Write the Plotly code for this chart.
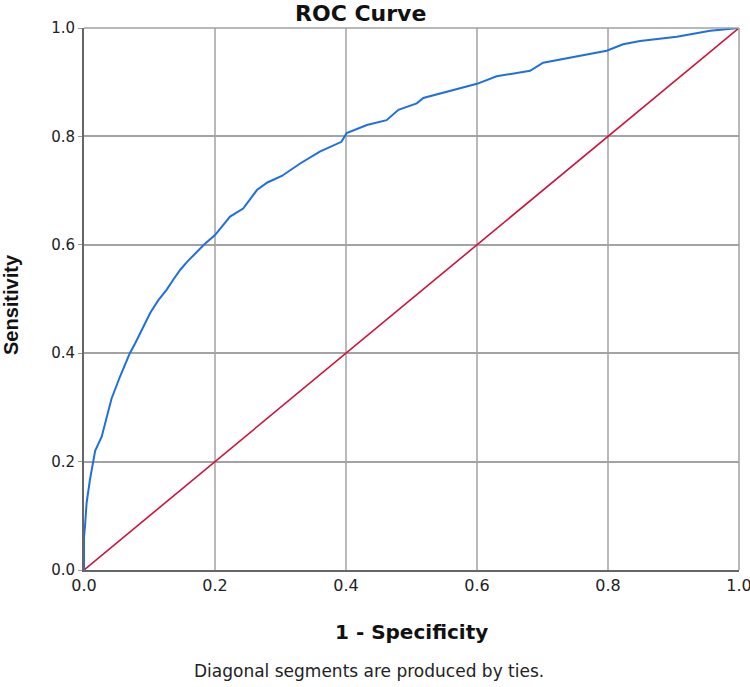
import plotly.graph_objects as go

# ROC curve
fpr = [0, 0, 0.0015, 0.004, 0.009, 0.014, 0.017, 0.027, 0.035, 0.042, 0.055, 0.070, 0.078,
       0.090, 0.101, 0.113, 0.126, 0.137, 0.147, 0.157, 0.167, 0.183, 0.200, 0.212, 0.223,
       0.243, 0.253, 0.264, 0.280, 0.302, 0.330, 0.360, 0.393, 0.401, 0.432, 0.462, 0.480,
       0.508, 0.518, 0.559, 0.600, 0.630, 0.681, 0.701, 0.752, 0.798, 0.823, 0.849, 0.905,
       0.956, 1.0]
tpr = [0, 0.06, 0.08, 0.124, 0.166, 0.203, 0.220, 0.246, 0.285, 0.316, 0.357, 0.400, 0.418,
       0.447, 0.474, 0.497, 0.517, 0.537, 0.554, 0.568, 0.581, 0.600, 0.618, 0.635, 0.652,
       0.667, 0.683, 0.701, 0.715, 0.727, 0.750, 0.772, 0.790, 0.806, 0.821, 0.830, 0.849,
       0.861, 0.871, 0.884, 0.897, 0.911, 0.921, 0.936, 0.948, 0.958, 0.970, 0.976, 0.984,
       0.995, 1.0]
ref_x = [0, 1]
ref_y = [0, 1]
tick_vals = [0.0, 0.2, 0.4, 0.6, 0.8, 1.0]
tick_text = ["0.0", "0.2", "0.4", "0.6", "0.8", "1.0"]

title_text = "ROC Curve"
x_title = "1 - Specificity"
y_title = "Sensitivity"
footnote = "Diagonal segments are produced by ties."

fig = go.Figure()
fig.add_trace(go.Scatter(x=ref_x, y=ref_y, mode="lines",
                         line=dict(color="#d0123c", width=1.6), showlegend=False,
                         hoverinfo="skip", cliponaxis=False))
fig.add_trace(go.Scatter(x=fpr, y=tpr, mode="lines",
                         line=dict(color="#1e6fe3", width=2), showlegend=False,
                         cliponaxis=False))

fig.update_layout(
    template="none",
    width=750, height=687,
    margin=dict(l=84, r=11, t=28, b=117, autoexpand=False),
    paper_bgcolor="white", plot_bgcolor="white",
    xaxis=dict(range=[0, 1], tickvals=tick_vals, ticktext=tick_text, automargin=False,
               showgrid=True, gridcolor="#b9b9b9", gridwidth=2,
               showline=True, linecolor="#666", linewidth=2, mirror=False,
               ticks="", zeroline=False, ticklabeloverflow="allow",
               tickfont=dict(family="DejaVu Sans", size=16, color="#222")),
    yaxis=dict(range=[0, 1], tickvals=tick_vals, ticktext=tick_text, automargin=False,
               showgrid=True, gridcolor="#a3a3a3", gridwidth=1.5,
               showline=True, linecolor="#666", linewidth=2, mirror=False,
               ticks="outside", ticklen=4, tickcolor="#999", zeroline=False,
               ticklabeloverflow="allow",
               tickfont=dict(family="DejaVu Sans", size=15, color="#222")),
    shapes=[
        dict(type="line", xref="paper", yref="paper", x0=0, x1=1, y0=1, y1=1,
             line=dict(color="#a0a0a0", width=1.5)),
        dict(type="line", xref="paper", yref="paper", x0=1, x1=1, y0=0, y1=1,
             line=dict(color="#a0a0a0", width=1.5)),
    ],
    annotations=[
        dict(text=title_text, xref="paper", yref="paper", x=(360 - 84) / 655, y=1,
             yshift=28, xanchor="center", yanchor="top", showarrow=False,
             borderpad=0,
             font=dict(family="DejaVu Sans", size=22, color="#111", weight="bold")),
        dict(text=x_title, xref="paper", yref="paper", x=0.5, y=0, yshift=-62,
             xanchor="center", yanchor="middle", showarrow=False,
             font=dict(family="DejaVu Sans", size=20, color="#111", weight="bold")),
        dict(text=y_title, xref="paper", yref="paper", x=0, y=0.5, xshift=-73, yshift=-6,
             xanchor="center", yanchor="middle", textangle=-90, showarrow=False,
             font=dict(family="Liberation Sans", size=20, color="#111", weight="bold")),
        dict(text=footnote, xref="paper", yref="paper", x=(369 - 84) / 655, y=0,
             yshift=-101, xanchor="center", yanchor="middle", showarrow=False,
             font=dict(family="DejaVu Sans", size=17, color="#222")),
    ],
)

fig.write_html("out.html", config={"displayModeBar": False},
               post_script="document.body.style.margin='0';document.body.style.overflow='hidden';")
